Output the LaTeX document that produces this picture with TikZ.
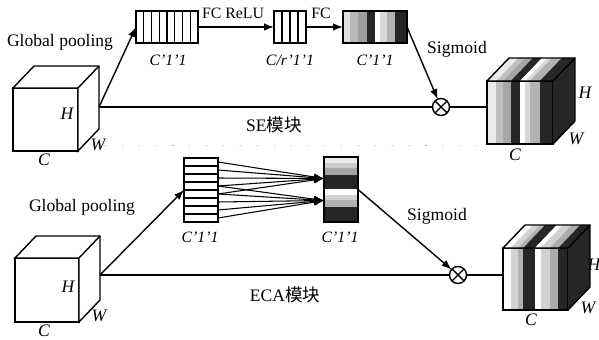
\documentclass[tikz,border=0pt]{standalone}
\usepackage{fontspec}
\setmainfont{Liberation Serif}
\newfontfamily\cjk{Noto Sans CJK SC}
\usetikzlibrary{positioning,calc,arrows.meta}

\newcommand{\sefcbands}{0/.11/gray!25, .11/.23/gray!55, .23/.375/gray!75, .375/.5/black!85, .5/.58/white, .58/.69/gray!30, .69/.81/gray!60, .81/1/black!85}
\newcommand{\seoutbands}{0/.14/gray!15, .14/.24/gray!50, .24/.36/gray!70, .36/.5/black!85, .5/.58/white, .58/.65/gray!30, .65/.8/gray!60, .8/1/black!85}
\newcommand{\ecaconvbands}{0/.09/gray!15, .09/.17/gray!40, .17/.28/gray!70, .28/.5/black!85, .5/.58/white, .58/.66/gray!35, .66/.77/gray!60, .77/1/black!85}
\newcommand{\ecaoutbands}{0/.12/white, .12/.23/gray!35, .23/.31/gray!60, .31/.49/black!85, .49/.58/white, .58/.72/gray!35, .72/.85/gray!65, .85/1/black!85}

\tikzset{
    face/.style={draw, thick, fill=white, inner sep=0pt, outer sep=0pt},
    vec/.style={draw, thick, fill=white, inner sep=0pt, outer sep=0pt},
    vlines/.style={path picture={
        \foreach \i [evaluate=\i as \f using \i/#1] in {1,...,#1}
            \draw[semithick] ($(path picture bounding box.north west)!\f!(path picture bounding box.north east)$)
                -- ($(path picture bounding box.south west)!\f!(path picture bounding box.south east)$);}},
    hlines/.style={path picture={
        \foreach \i [evaluate=\i as \f using \i/#1] in {1,...,#1}
            \draw[semithick] ($(path picture bounding box.north west)!\f!(path picture bounding box.south west)$)
                -- ($(path picture bounding box.north east)!\f!(path picture bounding box.south east)$);}},
    vbands/.style={path picture={
        \foreach \a/\b/\c in #1
            \fill[fill=\c] ($(path picture bounding box.north west)!\a!(path picture bounding box.north east)$)
                rectangle ($(path picture bounding box.south west)!\b!(path picture bounding box.south east)$);}},
    hbands/.style={path picture={
        \foreach \a/\b/\c in #1
            \fill[fill=\c] ($(path picture bounding box.north west)!\a!(path picture bounding box.south west)$)
                rectangle ($(path picture bounding box.north east)!\b!(path picture bounding box.south east)$);}},
    mul/.style={circle, draw, thick, fill=white, minimum size=3.4mm, inner sep=0pt, outer sep=0pt},
    flow/.style={thick, -{Latex[length=2mm, width=1.5mm]}},
    link/.style={thick},
    dim/.style={font=\itshape},
    sz/.style={font=\small\itshape},
    fclabel/.style={font=\small}
}

\begin{document}
\begin{tikzpicture}[x=0.02cm, y=-0.02cm]
\useasboundingbox (0,0) rectangle (599,340);

% ===== SE block =====
\node[face, minimum width=1.3cm, minimum height=1.26cm] (se_in) at (45.5,119.5) {};
\draw[thick, fill=white] (se_in.north west) -- ++(21,-22) -| ($(se_in.south east)+(21,-22)$) -- (se_in.south east) -- (se_in.north east) -- cycle;
\draw[thick] (se_in.north east) -- ++(21,-22);
\coordinate (se_src) at (99,107);
\node[dim] (se_h) at (67,114) {H};
\node[dim] (se_w) at (98,145) {W};
\node[dim] (se_c) at (44,160) {C};
\node (se_gp) at (60,42) {Global pooling};

\node[vec, vlines=8, minimum width=1.24cm, minimum height=0.64cm] (se_pool) at (167,27) {};
\node[vec, vlines=4, minimum width=0.64cm, minimum height=0.64cm] (se_fc1) at (290,27) {};
\node[vec, vbands=\sefcbands, minimum width=1.28cm, minimum height=0.64cm] (se_fc2) at (375,27) {};
\node[sz] (se_s1) at (168,60) {C'1'1};
\node[sz] (se_s2) at (290,60) {C/r'1'1};
\node[sz] (se_s3) at (375,60) {C'1'1};
\node[fclabel] (se_relu) at (233,13) {FC ReLU};
\node[fclabel] (se_fc) at (321,13) {FC};

\node[mul] (se_mul) at (441,107) {};
\draw[thick] (se_mul.north west) -- (se_mul.south east) (se_mul.north east) -- (se_mul.south west);
\node (se_sig) at (457,49) {Sigmoid};
\node (se_name) at (274,125) {SE{\cjk 模块}};

\node[face, vbands=\seoutbands, minimum width=1.32cm, minimum height=1.26cm] (se_out) at (520,112.5) {};
\foreach \a/\b/\c in \seoutbands
    \fill[fill=\c] ($(se_out.north west)!\a!(se_out.north east)$) -- ($(se_out.north west)!\b!(se_out.north east)$)
        -- ++(22,-23) -- ($(se_out.north west)!\a!(se_out.north east)+(22,-23)$) -- cycle;
\fill[black!85] (se_out.north east) -- ++(22,-23) -- ++(0,63) -- (se_out.south east) -- cycle;
\draw[thick] (se_out.north east) -- (se_out.north west) -- ++(22,-23) -| ($(se_out.south east)+(22,-23)$) -- (se_out.south east);
\draw[thick] (se_out.north east) -- ++(22,-23);
\node[dim] (se_oh) at (585,93) {H};
\node[dim] (se_ow) at (576,139) {W};
\node[dim] (se_oc) at (515,155) {C};

\draw[flow] (se_src) -- (se_pool.west);
\draw[flow] (se_pool) -- (se_fc1);
\draw[flow] (se_fc1) -- (se_fc2);
\draw[flow] (se_fc2.east) -- (se_mul);
\draw[link] (se_src) -- (se_mul);
\draw[link] (se_mul) -- (se_mul -| se_out.west);

\coordinate (sep_l) at (105,145);
\coordinate (sep_r) at (482,145);
\draw[gray!60, dash pattern=on 0.6pt off 9pt] (sep_l) -- (sep_r);

% ===== ECA block =====
\node[face, minimum width=1.28cm, minimum height=1.28cm] (eca_in) at (47,290) {};
\draw[thick, fill=white] (eca_in.north west) -- ++(21,-22) -| ($(eca_in.south east)+(21,-22)$) -- (eca_in.south east) -- (eca_in.north east) -- cycle;
\draw[thick] (eca_in.north east) -- ++(21,-22);
\coordinate (eca_src) at (100,275);
\node[dim] (eca_h) at (68,287) {H};
\node[dim] (eca_w) at (99,316) {W};
\node[dim] (eca_c) at (44,331) {C};
\node (eca_gp) at (82,207) {Global pooling};

\node[vec, hlines=8, minimum width=0.68cm, minimum height=1.28cm] (eca_pool) at (201,190) {};
\node[vec, hbands=\ecaconvbands, minimum width=0.68cm, minimum height=1.3cm] (eca_conv) at (341,189.5) {};
\coordinate (eca_t1) at ($(eca_conv.west)+(0,-11)$);
\coordinate (eca_t2) at ($(eca_conv.west)+(0,11)$);
\node[sz] (eca_s1) at (200,237) {C'1'1};
\node[sz] (eca_s2) at (340,237) {C'1'1};
\foreach \k in {0,...,4}
    \draw[flow, semithick] ($(eca_pool.north east)+(0,4+8*\k)$) -- (eca_t1);
\foreach \k in {3,...,7}
    \draw[flow, semithick] ($(eca_pool.north east)+(0,4+8*\k)$) -- (eca_t2);

\node[mul] (eca_mul) at (458,275) {};
\draw[thick] (eca_mul.north west) -- (eca_mul.south east) (eca_mul.north east) -- (eca_mul.south west);
\node (eca_sig) at (437,216) {Sigmoid};
\node (eca_name) at (285,295) {ECA{\cjk 模块}};

\node[face, vbands=\ecaoutbands, minimum width=1.3cm, minimum height=1.24cm] (eca_out) at (535.5,279) {};
\foreach \a/\b/\c in \ecaoutbands
    \fill[fill=\c] ($(eca_out.north west)!\a!(eca_out.north east)$) -- ($(eca_out.north west)!\b!(eca_out.north east)$)
        -- ++(22,-23) -- ($(eca_out.north west)!\a!(eca_out.north east)+(22,-23)$) -- cycle;
\fill[black!85] (eca_out.north east) -- ++(22,-23) -- ++(0,62) -- (eca_out.south east) -- cycle;
\draw[thick] (eca_out.north east) -- (eca_out.north west) -- ++(22,-23) -| ($(eca_out.south east)+(22,-23)$) -- (eca_out.south east);
\draw[thick] (eca_out.north east) -- ++(22,-23);
\node[dim] (eca_oh) at (594,265) {H};
\node[dim] (eca_ow) at (588,308) {W};
\node[dim] (eca_oc) at (531,320) {C};

\draw[flow] (eca_src) -- (eca_pool.west);
\draw[flow] (eca_conv.east) -- (eca_mul);
\draw[link] (eca_src) -- (eca_mul);
\draw[link] (eca_mul) -- (eca_mul -| eca_out.west);

\end{tikzpicture}
\end{document}
